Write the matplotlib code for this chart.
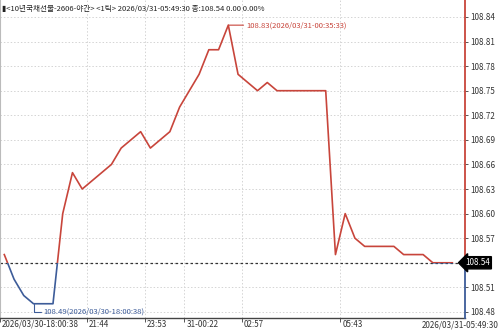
import matplotlib
matplotlib.use('Agg')
import matplotlib.pyplot as plt
import matplotlib.transforms as mtransforms
from matplotlib.patches import Rectangle

plt.rcParams['font.family'] = ['Liberation Sans Narrow', 'Noto Sans CJK KR', 'DejaVu Sans']

# tick-by-tick prices (1틱 chart)
prices = [108.55, 108.52, 108.50, 108.49, 108.49, 108.49, 108.60, 108.65, 108.63, 108.64,
          108.65, 108.66, 108.68, 108.69, 108.70, 108.68, 108.69, 108.70, 108.73, 108.75,
          108.77, 108.80, 108.80, 108.83, 108.77, 108.76, 108.75, 108.76, 108.75, 108.75,
          108.75, 108.75, 108.75, 108.75, 108.55, 108.60, 108.57, 108.56, 108.56, 108.56,
          108.56, 108.55, 108.55, 108.55, 108.54, 108.54, 108.54]
base = 108.54
y_ticks = [108.48, 108.51, 108.54, 108.57, 108.60, 108.63, 108.66, 108.69,
           108.72, 108.75, 108.78, 108.81, 108.84]
x_tick_pos = [-0.44, 8.5, 14.4, 18.5, 24.4, 34.5]
x_tick_labels = ['2026/03/30-18:00:38', '21:44', '23:53', '31-00:22', '02:57', '05:43']
last_label = '2026/03/31-05:49:30'
title = '▮<10년국채선물-2606-야간> <1틱> 2026/03/31-05:49:30 종:108.54 0.00 0.00%'

RED = '#c8453b'
BLUE = '#3d5c99'
FS = 5.5

fig = plt.figure(figsize=(5, 3.32), dpi=100)
ax = fig.add_axes([0, 14 / 332, 465 / 500, 318 / 332])
ymin, ymax = 108.4726, 108.8607
xmin, xmax = -0.44, 47.3
ax.set_xlim(xmin, xmax)
ax.set_ylim(ymin, ymax)

idx = list(range(len(prices)))
up, = ax.plot(idx, prices, color=RED, lw=1.2, zorder=3)
up.set_clip_path(Rectangle((xmin, base), xmax - xmin, ymax - base, transform=ax.transData))
dn, = ax.plot(idx, prices, color=BLUE, lw=1.2, zorder=3)
dn.set_clip_path(Rectangle((xmin, ymin), xmax - xmin, base - ymin, transform=ax.transData))

ax.axhline(base, color='#333333', lw=0.9, ls=(0, (2, 2)), zorder=2)

# grid
ax.set_yticks(y_ticks)
ax.set_xticks(x_tick_pos)
ax.grid(True, color='#d4d4d4', lw=0.7, ls=(0, (1.5, 2)))

# right axis line, red above / blue below
frac = (base - ymin) / (ymax - ymin)
ax.plot([1, 1], [frac, 1], transform=ax.transAxes, color=RED, lw=1.3, clip_on=False, zorder=4)
ax.plot([1, 1], [0, frac], transform=ax.transAxes, color=BLUE, lw=1.3, clip_on=False, zorder=4)

for s in ['top', 'right']:
    ax.spines[s].set_visible(False)
ax.spines['left'].set_color('#bbbbbb')
ax.spines['bottom'].set_color('#444444')
ax.spines['bottom'].set_linewidth(1.0)

ax.yaxis.tick_right()
ax.set_yticklabels(['' if abs(v - base) < 1e-9 else f'{v:.2f}' for v in y_ticks])
ax.tick_params(axis='y', length=2.5, width=0.7, color='#555555', labelsize=FS + 0.3,
               labelcolor='#333333', pad=1.5)
ax.set_xticklabels(x_tick_labels)
ax.tick_params(axis='x', length=3, width=0.7, color='#555555', labelsize=FS + 0.3,
               labelcolor='#333333', pad=-1.8)
shift = mtransforms.ScaledTranslation(2 / 100, 0, fig.dpi_scale_trans)
for lab in ax.get_xticklabels():
    lab.set_ha('left')
    lab.set_transform(lab.get_transform() + shift)
fig.text(0.997, 0.008, last_label, ha='right', va='bottom', fontsize=FS + 0.3, color='#333333')

# current price box
ax.text(1.0, base, f'{base:.2f}', transform=ax.get_yaxis_transform(), ha='left', va='center',
        fontsize=FS + 0.3, color='white', zorder=5, clip_on=False,
        bbox=dict(boxstyle='larrow,pad=0.2', fc='black', ec='black'))

# max / min annotations
imax = prices.index(max(prices))
ax.annotate(f'{prices[imax]:.2f}(2026/03/31-00:35:33)', xy=(imax, prices[imax]),
            xytext=(18, 0), textcoords='offset pixels', ha='left', va='center',
            fontsize=FS, color=RED,
            arrowprops=dict(arrowstyle='-', color=RED, lw=0.8, shrinkA=0, shrinkB=0,
                            relpos=(0, 0.5)))
imin = prices.index(min(prices))
ax.annotate(f'{prices[imin]:.2f}(2026/03/30-18:00:38)', xy=(imin, prices[imin]),
            xytext=(10, -8), textcoords='offset pixels', ha='left', va='center',
            fontsize=FS, color=BLUE,
            arrowprops=dict(arrowstyle='-', color=BLUE, lw=0.8, shrinkA=0, shrinkB=0,
                            relpos=(0, 0.5),
                            connectionstyle='angle,angleA=0,angleB=90,rad=0'))

fig.text(0.004, 0.985, title, ha='left', va='top', fontsize=FS, color='#222222')

fig.savefig('out.png', dpi=100)
